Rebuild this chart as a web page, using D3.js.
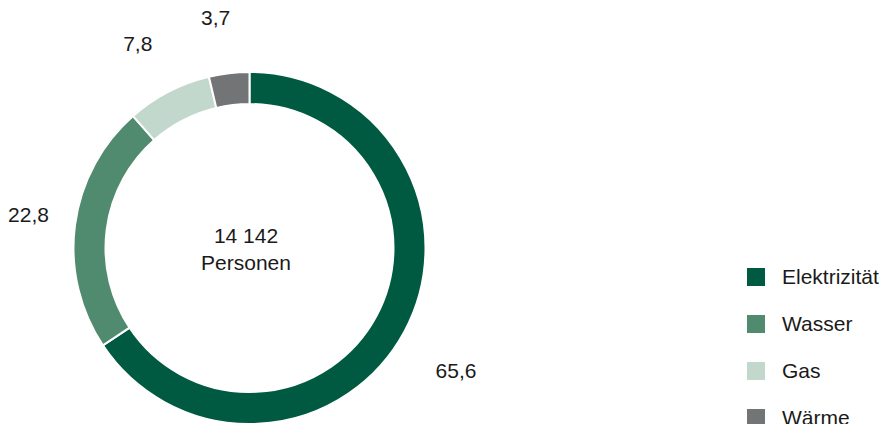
<!DOCTYPE html>
<html>
<head>
<meta charset="utf-8">
<script src="https://cdn.jsdelivr.net/npm/d3@7"></script>
<style>
  body { margin: 0; background: #fff; }
  text { font-family: "Liberation Sans", Arial, sans-serif; fill: #1a1a1a; }
</style>
</head>
<body>
<div id="chart"></div>
<script>
// data
const categories = ["Elektrizität", "Wasser", "Gas", "Wärme"];
const shares = [65.6, 22.8, 7.8, 3.7];
const colors = ["#005a41", "#508a6f", "#c3d8cd", "#737476"];
const centerLines = ["14 142", "Personen"];

// small nudges of the value labels away from the plain centroid
const labelNudge = [[2, 13], [9, -3], [-5, 2], [-7, 0]];

const width = 882, height = 424;
const cx = 249.5, cy = 248;
const outerR = 176, innerR = 144, labelR = 232;

const svg = d3.select("#chart").append("svg")
	.attr("width", width)
	.attr("height", height);

const g = svg.append("g")
	.attr("transform", "translate(" + cx + "," + cy + ")");

const pie = d3.pie().sort(null).value(d => d);
const arcs = pie(shares);

const arc = d3.arc()
	.innerRadius(innerR)
	.outerRadius(outerR);

const labelArc = d3.arc()
	.innerRadius(labelR)
	.outerRadius(labelR);

const fmt = d3.formatLocale({decimal: ",", thousands: " ", grouping: [3], currency: ["", "€"]}).format(".1f");

// slices
g.selectAll(".slice")
	.data(arcs)
	.enter().append("path")
	.attr("class", "slice")
	.attr("d", arc)
	.attr("fill", (d, i) => colors[i])
	.attr("stroke", "#fff")
	.attr("stroke-width", 2);

// value labels
g.selectAll(".val")
	.data(arcs)
	.enter().append("text")
	.attr("class", "val")
	.attr("transform", (d, i) => {
		let c = labelArc.centroid(d);
		return "translate(" + (c[0] + labelNudge[i][0]) + "," + (c[1] + labelNudge[i][1]) + ")";
	})
	.attr("text-anchor", "middle")
	.attr("dy", "0.35em")
	.style("font-size", "21px")
	.text(d => fmt(d.data));

// center text
g.selectAll(".center")
	.data(centerLines)
	.enter().append("text")
	.attr("class", "center")
	.attr("x", -3.5)
	.attr("y", (d, i) => -5 + i * 27)
	.attr("text-anchor", "middle")
	.style("font-size", "21px")
	.text(d => d);

// legend
const legend = svg.append("g")
	.attr("transform", "translate(747,268)");

const items = legend.selectAll(".item")
	.data(categories)
	.enter().append("g")
	.attr("class", "item")
	.attr("transform", (d, i) => "translate(0," + i * 47 + ")");

items.append("rect")
	.attr("width", 18)
	.attr("height", 18)
	.attr("fill", (d, i) => colors[i]);

items.append("text")
	.attr("x", 35)
	.attr("y", 9)
	.attr("dy", "0.35em")
	.style("font-size", "21px")
	.text(d => d);
</script>
</body>
</html>
